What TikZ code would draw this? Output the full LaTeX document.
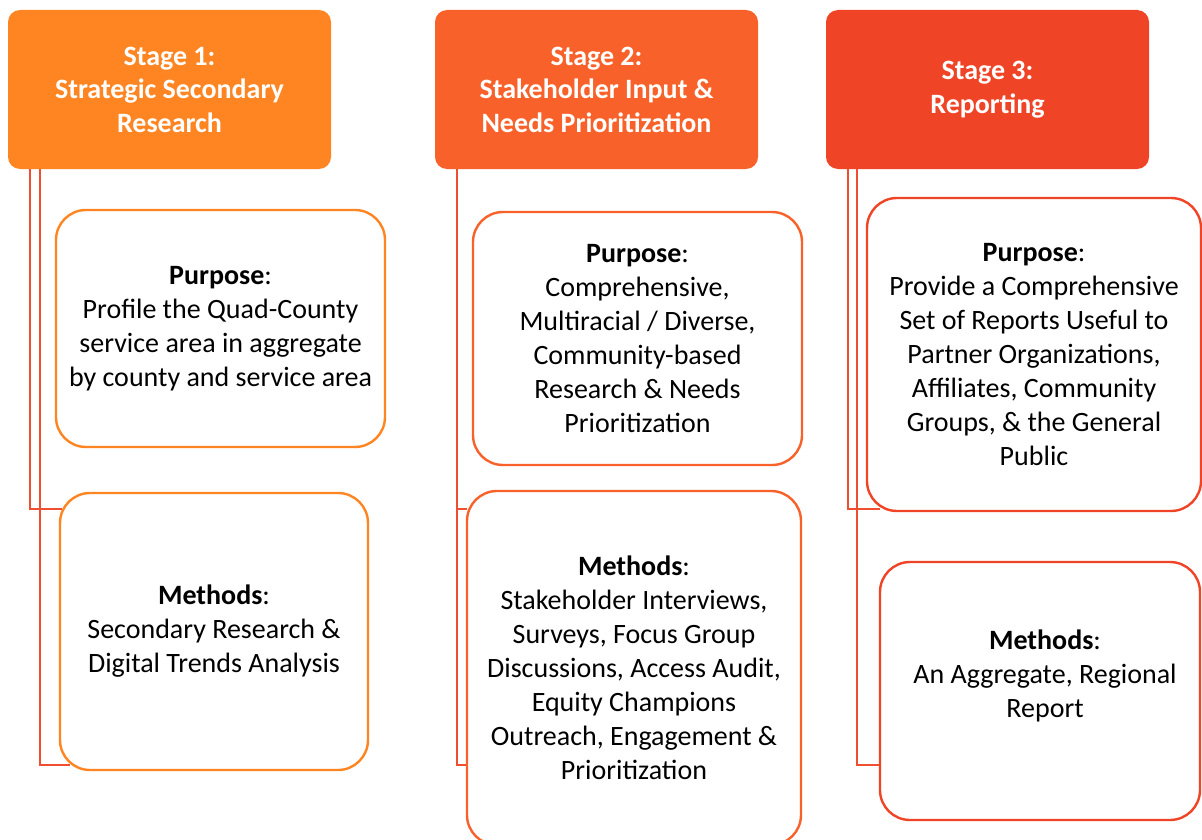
\documentclass[tikz,border=0pt]{standalone}
\usepackage{fontspec}
\setmainfont{Carlito}
\usepackage{tikz}

\definecolor{stageone}{HTML}{FF8522}
\definecolor{stagetwo}{HTML}{F8622A}
\definecolor{stagethree}{HTML}{F04426}
\definecolor{connred}{HTML}{F04E30}

\begin{document}
\begin{tikzpicture}[x=1pt,y=-1pt,
    stagebox/.style={fill=#1, draw=none, rounded corners=12pt, minimum width=323pt, minimum height=159pt,
        text=white, align=center, font=\fontsize{28}{33.5}\selectfont\bfseries},
    childbox/.style={draw=#1, line width=2.4pt, rounded corners=30pt, fill=white, align=center,
        font=\fontsize{28}{34}\selectfont},
    bodytext/.style={align=center, font=\fontsize{28}{34}\selectfont},
    conn/.style={draw=connred, line width=2pt}]
    \useasboundingbox (0,0) rectangle (1202,840);

    % stage headers
    \node[stagebox=stageone] (stage1) at (169.5,89.5) {Stage 1:\\Strategic Secondary\\Research};
    \node[stagebox=stagetwo] (stage2) at (596.5,89.5) {Stage 2:\\Stakeholder Input \&\\Needs Prioritization};
    \node[stagebox=stagethree] (stage3) at (987.5,89.5) {Stage 3:\\Reporting};

    % connectors
    \draw[conn] ([xshift=22pt]stage1.south west) |- (30,509) -- (62,509);
    \draw[conn] ([xshift=32pt]stage1.south west) |- (40,765) -- (70,765);
    \draw[conn] ([xshift=22pt]stage2.south west) |- (457,509) -- (467,509);
    \draw[conn] ([xshift=22pt]stage2.south west) |- (457,765) -- (467,765);
    \draw[conn] ([xshift=22pt]stage3.south west) |- (848,509) -- (880,509);
    \draw[conn] ([xshift=31pt]stage3.south west) |- (857,765) -- (880,765);

    % stage 1 boxes
    \node[childbox=stageone, minimum width=329pt, minimum height=237pt] (purpose1) at (220.5,328.5)
        {\textbf{Purpose}:\\Profile the Quad-County\\service area in aggregate\\by county and service area};
    \node[childbox=stageone, minimum width=308pt, minimum height=277pt] (methods1) at (214,631.5)
        {\textbf{Methods}:\\Secondary Research \&\\Digital Trends Analysis};

    % stage 2 boxes
    \node[childbox=stagetwo, minimum width=329pt, minimum height=253pt] (purpose2) at (637.5,338.5)
        {\textbf{Purpose}:\\Comprehensive,\\Multiracial / Diverse,\\Community-based\\Research \& Needs\\Prioritization};
    \node[childbox=stagetwo, minimum width=334pt, minimum height=354pt] (methods2) at (634,668)
        {\textbf{Methods}:\\Stakeholder Interviews,\\Surveys, Focus Group\\Discussions, Access Audit,\\Equity Champions\\Outreach, Engagement \&\\Prioritization};

    % stage 3 boxes
    \node[childbox=stagethree, minimum width=334pt, minimum height=313pt] (purpose3) at (1034,354.5)
        {\textbf{Purpose}:\\Provide a Comprehensive\\Set of Reports Useful to\\Partner Organizations,\\Affiliates, Community\\Groups, \& the General\\Public};
    \node[childbox=stagethree, minimum width=320pt, minimum height=258pt] (methods3) at (1040,691) {};
    \node[bodytext] (methods3text) at (1045,676) {\textbf{Methods}:\\An Aggregate, Regional\\Report};
\end{tikzpicture}
\end{document}
